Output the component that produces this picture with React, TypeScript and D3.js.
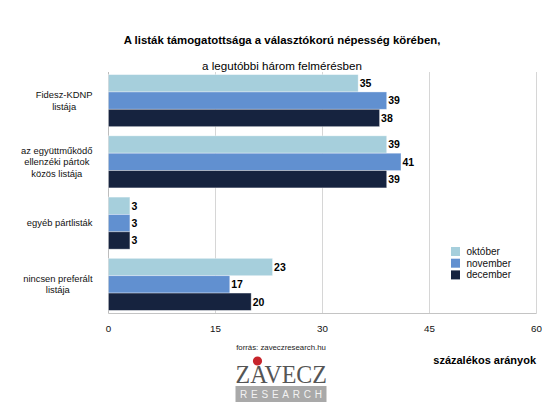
import React, { useEffect, useRef } from "react";
import * as d3 from "d3";

const categories: string[][] = [
  ["Fidesz-KDNP", "listája"],
  ["az együttműködő", "ellenzéki pártok", "közös listája"],
  ["egyéb pártlisták"],
  ["nincsen preferált", "listája"],
];
const seriesNames = ["október", "november", "december"];
const oktober = [35, 39, 3, 23];
const november = [39, 41, 3, 17];
const december = [38, 39, 3, 20];
const seriesColors = ["#a6cfdc", "#6190d0", "#16233f"];
const xTicks = [0, 15, 30, 45, 60];

const title1 = "A listák támogatottsága a választókorú népesség körében,";
const title2 = "a legutóbbi három felmérésben";
const sourceText = "forrás: zaveczresearch.hu";
const unitText = "százalékos arányok";

const FONT = "'Liberation Sans', Arial, Helvetica, sans-serif";

export default function App() {
  const ref = useRef<SVGSVGElement>(null);

  useEffect(() => {
    const svg = d3.select(ref.current);
    svg.selectAll("*").remove();

    const series = [oktober, november, december];
    const catKeys = categories.map((c) => c.join(" "));

    const x = d3.scaleLinear().domain([0, 60]).range([108.5, 536.5]);
    const y = d3
      .scaleBand<string>()
      .domain(catKeys)
      .range([70, 315])
      .paddingInner(0.15)
      .paddingOuter(0.075);
    const ySub = d3
      .scaleBand<string>()
      .domain(seriesNames)
      .range([0, y.bandwidth()]);

    const plotTop = 72;
    const plotBottom = 313.5;

    // gridlines
    svg
      .append("g")
      .selectAll("line")
      .data(xTicks)
      .join("line")
      .attr("x1", (d) => x(d))
      .attr("x2", (d) => x(d))
      .attr("y1", plotTop)
      .attr("y2", plotBottom)
      .attr("stroke", (d) => (d === 0 ? "#bdbdbd" : "#d6d6d6"))
      .attr("stroke-width", 1);
    svg
      .append("line")
      .attr("x1", x(0))
      .attr("x2", x(60))
      .attr("y1", plotBottom)
      .attr("y2", plotBottom)
      .attr("stroke", "#c4c4c4");

    // bars
    const gBars = svg.append("g");
    catKeys.forEach((cat, ci) => {
      seriesNames.forEach((s, si) => {
        const v = series[si][ci];
        const by = (y(cat) as number) + (ySub(s) as number);
        gBars
          .append("rect")
          .attr("x", x(0))
          .attr("y", by)
          .attr("width", x(v) - x(0))
          .attr("height", ySub.bandwidth())
          .attr("fill", seriesColors[si])
          .attr("stroke", "rgba(255,255,255,0.45)")
          .attr("stroke-width", 0.8);
        gBars
          .append("text")
          .attr("x", x(v) + 1.5)
          .attr("y", by + ySub.bandwidth() / 2)
          .attr("dy", "0.36em")
          .attr("font-family", FONT)
          .attr("font-size", 10.5)
          .attr("font-weight", "bold")
          .attr("fill", "#000")
          .text(v);
      });
    });

    // category labels
    categories.forEach((lines, ci) => {
      const cy = (y(catKeys[ci]) as number) + y.bandwidth() / 2;
      const lh = 11.6;
      const g = svg.append("g");
      const texts = lines.map((ln, li) =>
        g
          .append("text")
          .attr("y", cy + (li - (lines.length - 1) / 2) * lh)
          .attr("dy", "0.35em")
          .attr("text-anchor", "middle")
          .attr("font-family", FONT)
          .attr("font-size", 9.4)
          .attr("fill", "#111")
          .text(ln)
      );
      const maxW = d3.max(texts, (t) => (t.node() as SVGTextElement).getComputedTextLength()) || 0;
      texts.forEach((t) => t.attr("x", 92.5 - maxW / 2));
    });

    // x tick labels
    svg
      .append("g")
      .selectAll("text")
      .data(xTicks)
      .join("text")
      .attr("x", (d) => x(d))
      .attr("y", 329)
      .attr("dy", "0.35em")
      .attr("text-anchor", "middle")
      .attr("font-family", FONT)
      .attr("font-size", 9.8)
      .attr("fill", "#111")
      .text((d) => d);

    // titles
    svg
      .append("text")
      .attr("x", 282)
      .attr("y", 40)
      .attr("dy", "0.35em")
      .attr("text-anchor", "middle")
      .attr("font-family", FONT)
      .attr("font-size", 11.4)
      .attr("font-weight", "bold")
      .attr("fill", "#000")
      .text(title1);
    svg
      .append("text")
      .attr("x", 282)
      .attr("y", 66)
      .attr("dy", "0.35em")
      .attr("text-anchor", "middle")
      .attr("font-family", FONT)
      .attr("font-size", 11.6)
      .attr("fill", "#000")
      .text(title2);

    // legend
    const leg = svg.append("g");
    seriesNames.forEach((s, i) => {
      const ly = 251.5 + i * 11.7;
      leg
        .append("rect")
        .attr("x", 451)
        .attr("y", ly - 4.5)
        .attr("width", 9)
        .attr("height", 9)
        .attr("fill", seriesColors[i]);
      leg
        .append("text")
        .attr("x", 466.5)
        .attr("y", ly)
        .attr("dy", "0.35em")
        .attr("font-family", FONT)
        .attr("font-size", 10)
        .attr("fill", "#111")
        .text(s);
    });

    // source & unit
    svg
      .append("text")
      .attr("x", 281)
      .attr("y", 347)
      .attr("dy", "0.35em")
      .attr("text-anchor", "middle")
      .attr("font-family", FONT)
      .attr("font-size", 7.8)
      .attr("fill", "#222")
      .text(sourceText);
    svg
      .append("text")
      .attr("x", 536)
      .attr("y", 360)
      .attr("dy", "0.35em")
      .attr("text-anchor", "end")
      .attr("font-family", FONT)
      .attr("font-size", 11)
      .attr("font-weight", "bold")
      .attr("fill", "#000")
      .text(unitText);

    // logo
    const logo = svg.append("g");
    logo
      .append("text")
      .attr("x", 235.5)
      .attr("y", 382.7)
      .attr("font-family", "'Liberation Serif', 'DejaVu Serif', serif")
      .attr("font-size", 26)
      .attr("textLength", 91.5)
      .attr("lengthAdjust", "spacingAndGlyphs")
      .attr("fill", "#555")
      .text("ZAVECZ");
    logo
      .append("circle")
      .attr("cx", 257.5)
      .attr("cy", 361)
      .attr("r", 4.6)
      .attr("fill", "#c7242b");
    logo
      .append("rect")
      .attr("x", 235.5)
      .attr("y", 386)
      .attr("width", 91)
      .attr("height", 16)
      .attr("fill", "#a9a9a9");
    logo
      .append("text")
      .attr("x", 240)
      .attr("y", 394)
      .attr("dy", "0.35em")
      .attr("font-family", FONT)
      .attr("font-size", 10)
      .attr("textLength", 82)
      .attr("lengthAdjust", "spacing")
      .attr("fill", "#f2f2f2")
      .text("RESEARCH");
  }, []);

  return (
    <svg
      ref={ref}
      width={560}
      height={420}
      style={{ position: "absolute", left: 0, top: 0, background: "#fff" }}
    />
  );
}
